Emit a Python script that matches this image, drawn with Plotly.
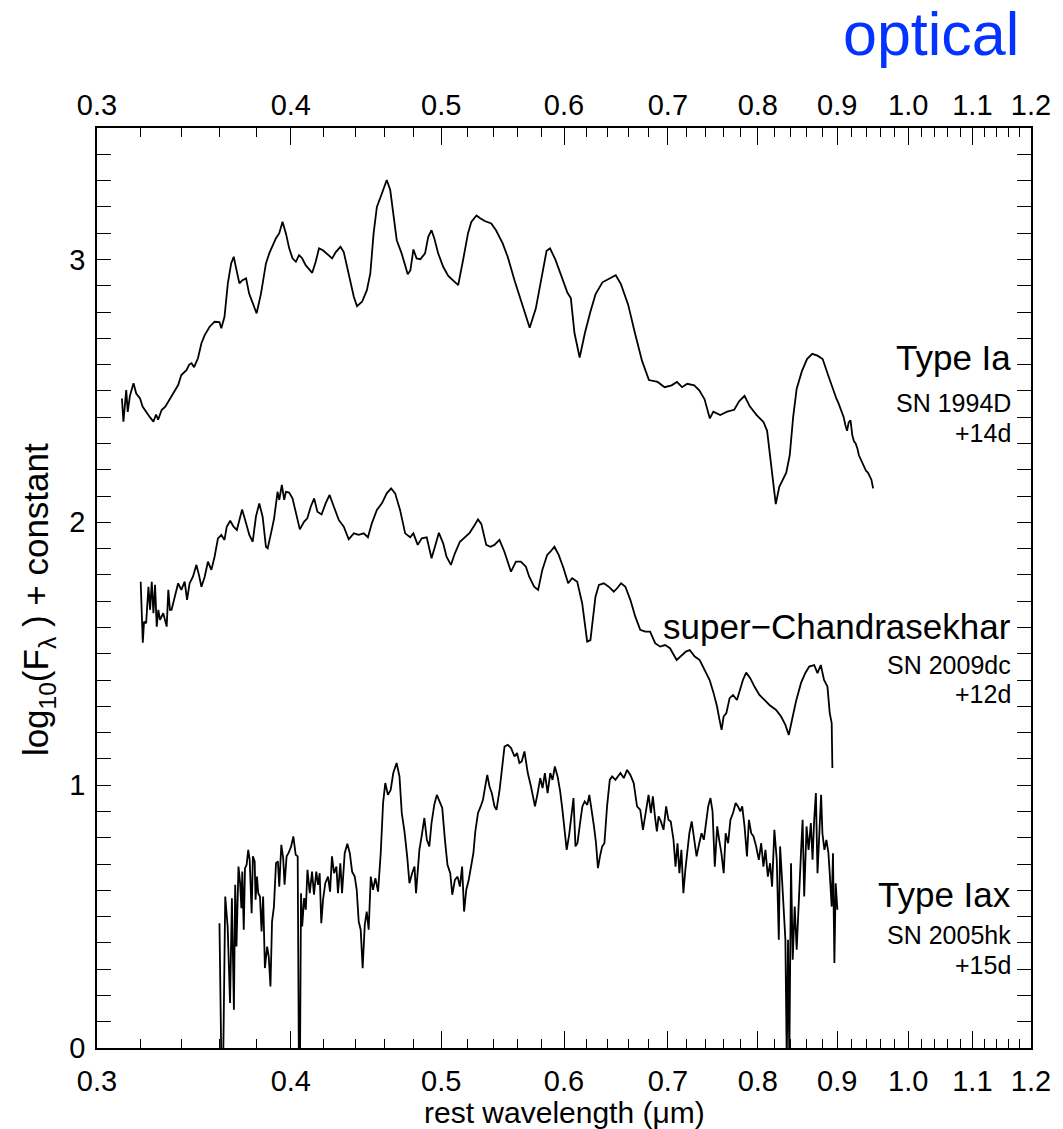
import math
import plotly.graph_objects as go

# ---------------- data (rest wavelength in micron, log10 flux + constant) ----------------
ia_wave = [0.3113, 0.3120, 0.3133, 0.3140, 0.3150, 0.3167, 0.3180, 0.3198, 0.3210, 0.3230,
           0.3245, 0.3262, 0.3275, 0.3285, 0.3302, 0.3320, 0.3343, 0.3360, 0.3384, 0.3400,
           0.3426, 0.3440, 0.3452, 0.3465, 0.3485, 0.3503, 0.3520, 0.3546, 0.3572, 0.3598,
           0.3608, 0.3625, 0.3643, 0.3661, 0.3675, 0.3690, 0.3706, 0.3723, 0.3743, 0.3760,
           0.3780, 0.3802, 0.3827, 0.3855, 0.3874, 0.3912, 0.3932, 0.3951, 0.3971, 0.3990,
           0.4010, 0.4030, 0.4049, 0.4067, 0.4089, 0.4129, 0.4150, 0.4171, 0.4195, 0.4233,
           0.4253, 0.4276, 0.4306, 0.4327, 0.4359, 0.4392, 0.4413, 0.4446, 0.4478, 0.4501,
           0.4523, 0.4545, 0.4579, 0.4612, 0.4636, 0.4658, 0.4681, 0.4715, 0.4734, 0.4758,
           0.4777, 0.4798, 0.4821, 0.4848, 0.4882, 0.4905, 0.4929, 0.4949, 0.4978, 0.5015,
           0.5053, 0.5090, 0.5128, 0.5165, 0.5203, 0.5229, 0.5269, 0.5298, 0.5334, 0.5386,
           0.5424, 0.5478, 0.5519, 0.5575, 0.5629, 0.5667, 0.5702, 0.5754, 0.5800, 0.5847,
           0.5877, 0.5923, 0.5969, 0.6003, 0.6031, 0.6061, 0.6094, 0.6141, 0.6189, 0.6239,
           0.6287, 0.6352, 0.6414, 0.6479, 0.6529, 0.6600, 0.6666, 0.6737, 0.6806, 0.6895,
           0.6966, 0.7039, 0.7095, 0.7149, 0.7204, 0.7280, 0.7336, 0.7392, 0.7450, 0.7489,
           0.7566, 0.7644, 0.7724, 0.7783, 0.7844, 0.7905, 0.7986, 0.8069, 0.8111, 0.8153,
           0.8195, 0.8216, 0.8259, 0.8302, 0.8345, 0.8388, 0.8431, 0.8475, 0.8540, 0.8606,
           0.8673, 0.8741, 0.8808, 0.8878, 0.8946, 0.8990, 0.9016, 0.9050, 0.9086, 0.9110,
           0.9133, 0.9155, 0.9180, 0.9205, 0.9227, 0.9250, 0.9274, 0.9295, 0.9317, 0.9345,
           0.9371, 0.9395, 0.9420, 0.9445, 0.9469, 0.9493]
ia_flux = [2.471, 2.383, 2.503, 2.420, 2.480, 2.529, 2.490, 2.471, 2.440, 2.414,
           2.400, 2.383, 2.410, 2.390, 2.427, 2.440, 2.471, 2.490, 2.522, 2.560,
           2.579, 2.600, 2.605, 2.590, 2.624, 2.681, 2.712, 2.744, 2.763, 2.762,
           2.738, 2.782, 2.909, 2.985, 3.010, 2.960, 2.909, 2.921, 2.928, 2.870,
           2.833, 2.795, 2.871, 2.985, 3.023, 3.080, 3.100, 3.143, 3.099, 3.043,
           3.004, 2.991, 3.016, 3.005, 2.978, 2.949, 2.990, 3.042, 3.035, 3.016,
           3.004, 3.028, 3.048, 3.028, 2.947, 2.858, 2.822, 2.839, 2.883, 2.947,
           3.099, 3.200, 3.251, 3.302, 3.264, 3.162, 3.073, 3.023, 2.990, 2.944,
           2.959, 3.038, 3.004, 3.001, 3.023, 3.086, 3.111, 3.081, 3.023, 2.972,
           2.937, 2.918, 2.902, 2.997, 3.099, 3.143, 3.167, 3.157, 3.146, 3.137,
           3.111, 3.061, 3.010, 2.921, 2.845, 2.788, 2.740, 2.813, 2.920, 3.033,
           3.042, 3.000, 2.946, 2.910, 2.873, 2.853, 2.720, 2.627, 2.720, 2.800,
           2.867, 2.913, 2.926, 2.940, 2.906, 2.827, 2.720, 2.614, 2.541, 2.534,
           2.514, 2.521, 2.534, 2.514, 2.527, 2.521, 2.501, 2.468, 2.395, 2.421,
           2.408, 2.421, 2.428, 2.461, 2.481, 2.441, 2.408, 2.381, 2.348, 2.229,
           2.122, 2.069, 2.135, 2.162, 2.189, 2.255, 2.401, 2.508, 2.574, 2.621,
           2.641, 2.634, 2.621, 2.561, 2.501, 2.470, 2.454, 2.430, 2.401, 2.370,
           2.348, 2.380, 2.388, 2.330, 2.308, 2.300, 2.281, 2.255, 2.242, 2.230,
           2.215, 2.195, 2.189, 2.175, 2.162, 2.129]

sc_wave = [0.3201, 0.3206, 0.3211, 0.3217, 0.3227, 0.3238, 0.3246, 0.3254, 0.3262, 0.3270,
           0.3278, 0.3286, 0.3294, 0.3310, 0.3327, 0.3335, 0.3343, 0.3351, 0.3367, 0.3384,
           0.3400, 0.3417, 0.3429, 0.3442, 0.3459, 0.3477, 0.3490, 0.3503, 0.3520, 0.3537,
           0.3555, 0.3572, 0.3590, 0.3608, 0.3625, 0.3637, 0.3656, 0.3674, 0.3692, 0.3706,
           0.3721, 0.3743, 0.3761, 0.3780, 0.3798, 0.3817, 0.3836, 0.3855, 0.3865, 0.3884,
           0.3902, 0.3922, 0.3932, 0.3947, 0.3961, 0.3971, 0.3990, 0.4010, 0.4030, 0.4054,
           0.4079, 0.4099, 0.4120, 0.4141, 0.4161, 0.4187, 0.4212, 0.4237, 0.4264, 0.4295,
           0.4327, 0.4359, 0.4392, 0.4424, 0.4457, 0.4485, 0.4511, 0.4545, 0.4579, 0.4612,
           0.4642, 0.4670, 0.4704, 0.4740, 0.4775, 0.4798, 0.4829, 0.4858, 0.4894, 0.4929,
           0.4954, 0.4983, 0.5015, 0.5040, 0.5073, 0.5103, 0.5141, 0.5179, 0.5216, 0.5255,
           0.5281, 0.5307, 0.5346, 0.5380, 0.5411, 0.5452, 0.5492, 0.5546, 0.5587, 0.5628,
           0.5670, 0.5698, 0.5740, 0.5774, 0.5810, 0.5852, 0.5880, 0.5915, 0.5953, 0.5996,
           0.6037, 0.6073, 0.6119, 0.6164, 0.6210, 0.6240, 0.6287, 0.6319, 0.6365, 0.6412,
           0.6460, 0.6492, 0.6531, 0.6572, 0.6621, 0.6670, 0.6719, 0.6769, 0.6818, 0.6869,
           0.6920, 0.6971, 0.7022, 0.7092, 0.7144, 0.7190, 0.7231, 0.7285, 0.7339, 0.7393,
           0.7448, 0.7492, 0.7530, 0.7558, 0.7581, 0.7604, 0.7635, 0.7672, 0.7711, 0.7756,
           0.7786, 0.7825, 0.7863, 0.7910, 0.7960, 0.8019, 0.8079, 0.8139, 0.8220, 0.8281,
           0.8334, 0.8376, 0.8416, 0.8466, 0.8529, 0.8583, 0.8634, 0.8698, 0.8741, 0.8784,
           0.8826, 0.8871, 0.8901, 0.8927, 0.8936]
sc_flux = [1.774, 1.603, 1.542, 1.622, 1.616, 1.755, 1.667, 1.774, 1.654, 1.762,
           1.603, 1.667, 1.629, 1.654, 1.603, 1.743, 1.667, 1.667, 1.717, 1.768,
           1.743, 1.774, 1.705, 1.768, 1.793, 1.838, 1.800, 1.755, 1.793, 1.850,
           1.819, 1.869, 1.939, 1.952, 1.933, 1.983, 2.006, 1.983, 1.971, 2.009,
           2.049, 1.996, 1.952, 1.926, 2.021, 2.072, 2.021, 1.907, 1.901, 1.958,
           2.015, 2.116, 2.085, 2.142, 2.085, 2.116, 2.113, 2.091, 2.034, 1.973,
           2.002, 2.015, 2.059, 2.091, 2.040, 2.030, 2.072, 2.104, 2.059, 2.009,
           1.983, 1.935, 1.958, 1.952, 1.958, 1.943, 1.996, 2.047, 2.072, 2.110,
           2.129, 2.110, 2.047, 1.958, 1.943, 1.958, 1.914, 1.939, 1.943, 1.863,
           1.907, 1.960, 1.920, 1.869, 1.838, 1.882, 1.926, 1.943, 1.960, 1.990,
           2.011, 1.994, 1.914, 1.907, 1.914, 1.933, 1.888, 1.812, 1.850, 1.850,
           1.831, 1.793, 1.755, 1.743, 1.819, 1.876, 1.888, 1.907, 1.876, 1.825,
           1.768, 1.787, 1.774, 1.692, 1.546, 1.552, 1.717, 1.762, 1.768, 1.755,
           1.736, 1.749, 1.768, 1.755, 1.705, 1.641, 1.591, 1.584, 1.584, 1.540,
           1.527, 1.533, 1.521, 1.476, 1.495, 1.508, 1.514, 1.489, 1.476, 1.438,
           1.400, 1.350, 1.299, 1.248, 1.210, 1.261, 1.274, 1.331, 1.343, 1.324,
           1.362, 1.400, 1.428, 1.407, 1.375, 1.343, 1.324, 1.305, 1.286, 1.261,
           1.229, 1.191, 1.248, 1.318, 1.388, 1.426, 1.451, 1.457, 1.426, 1.457,
           1.400, 1.375, 1.274, 1.236, 1.065]

iax_wave = [0.3598, 0.3608, 0.3618, 0.3629, 0.3642, 0.3655, 0.3665, 0.3676, 0.3683, 0.3690,
            0.3701, 0.3710, 0.3717, 0.3722, 0.3730, 0.3737, 0.3746, 0.3755, 0.3763, 0.3774,
            0.3781, 0.3791, 0.3796, 0.3804, 0.3811, 0.3821, 0.3830, 0.3839, 0.3849, 0.3862,
            0.3871, 0.3881, 0.3890, 0.3901, 0.3913, 0.3924, 0.3932, 0.3944, 0.3955, 0.3963,
            0.3975, 0.3986, 0.4002, 0.4015, 0.4029, 0.4041, 0.4048, 0.4055, 0.4061, 0.4068,
            0.4080, 0.4090, 0.4100, 0.4114, 0.4128, 0.4140, 0.4154, 0.4165, 0.4175, 0.4185,
            0.4196, 0.4210, 0.4227, 0.4240, 0.4252, 0.4265, 0.4280, 0.4290, 0.4305, 0.4316,
            0.4333, 0.4350, 0.4366, 0.4381, 0.4398, 0.4411, 0.4424, 0.4437, 0.4450, 0.4464,
            0.4477, 0.4490, 0.4504, 0.4519, 0.4535, 0.4553, 0.4571, 0.4587, 0.4602, 0.4620,
            0.4639, 0.4657, 0.4680, 0.4700, 0.4716, 0.4735, 0.4754, 0.4770, 0.4789, 0.4806,
            0.4817, 0.4829, 0.4841, 0.4857, 0.4877, 0.4895, 0.4913, 0.4929, 0.4949, 0.4968,
            0.4985, 0.5008, 0.5028, 0.5047, 0.5068, 0.5083, 0.5103, 0.5123, 0.5141, 0.5158,
            0.5173, 0.5190, 0.5209, 0.5229, 0.5245, 0.5260, 0.5281, 0.5302, 0.5320, 0.5338,
            0.5354, 0.5372, 0.5390, 0.5412, 0.5428, 0.5453, 0.5472, 0.5493, 0.5520, 0.5547,
            0.5575, 0.5596, 0.5616, 0.5635, 0.5658, 0.5686, 0.5713, 0.5747, 0.5770, 0.5792,
            0.5812, 0.5832, 0.5856, 0.5879, 0.5899, 0.5919, 0.5943, 0.5966, 0.5986, 0.6006,
            0.6024, 0.6046, 0.6067, 0.6085, 0.6103, 0.6121, 0.6145, 0.6166, 0.6187, 0.6211,
            0.6230, 0.6248, 0.6273, 0.6292, 0.6310, 0.6329, 0.6350, 0.6371, 0.6396, 0.6422,
            0.6444, 0.6476, 0.6524, 0.6557, 0.6589, 0.6621, 0.6654, 0.6687, 0.6719, 0.6746,
            0.6768, 0.6802, 0.6826, 0.6846, 0.6869, 0.6887, 0.6904, 0.6928, 0.6955, 0.6982,
            0.7006, 0.7030, 0.7059, 0.7080, 0.7101, 0.7121, 0.7142, 0.7163, 0.7184, 0.7205,
            0.7227, 0.7252, 0.7276, 0.7305, 0.7334, 0.7359, 0.7384, 0.7406, 0.7432, 0.7457,
            0.7480, 0.7505, 0.7532, 0.7554, 0.7579, 0.7605, 0.7627, 0.7655, 0.7681, 0.7711,
            0.7741, 0.7768, 0.7794, 0.7817, 0.7844, 0.7872, 0.7895, 0.7922, 0.7949, 0.7980,
            0.8012, 0.8040, 0.8067, 0.8091, 0.8120, 0.8147, 0.8171, 0.8199, 0.8228, 0.8253,
            0.8269, 0.8293, 0.8318, 0.8334, 0.8351, 0.8367, 0.8383, 0.8404, 0.8425, 0.8450,
            0.8475, 0.8500, 0.8529, 0.8550, 0.8570, 0.8600, 0.8626, 0.8655, 0.8677, 0.8698,
            0.8720, 0.8741, 0.8762, 0.8788, 0.8805, 0.8831, 0.8857, 0.8884, 0.8901, 0.8927,
            0.8944, 0.8963, 0.8980, 0.9003]
iax_flux = [0.475, -0.050, -0.050, 0.576, 0.462, 0.171, 0.570, 0.146, 0.621, 0.386,
            0.690, 0.627, 0.532, 0.671, 0.450, 0.684, 0.697, 0.754, 0.716, 0.513,
            0.729, 0.710, 0.564, 0.652, 0.589, 0.576, 0.443, 0.576, 0.304, 0.386,
            0.348, 0.234, 0.481, 0.538, 0.703, 0.710, 0.614, 0.773, 0.722, 0.621,
            0.729, 0.741, 0.767, 0.805, 0.735, 0.729, -0.050, -0.050, 0.589, 0.462,
            0.570, 0.526, 0.678, 0.589, 0.671, 0.583, 0.671, 0.621, 0.665, 0.475,
            0.564, 0.627, 0.652, 0.595, 0.729, 0.665, 0.690, 0.589, 0.703, 0.589,
            0.741, 0.777, 0.741, 0.671, 0.652, 0.602, 0.481, 0.450, 0.304, 0.469,
            0.519, 0.450, 0.652, 0.602, 0.646, 0.595, 0.741, 0.932, 1.008, 0.963,
            0.982, 1.046, 1.084, 1.033, 0.894, 0.824, 0.729, 0.627, 0.665, 0.690,
            0.589, 0.690, 0.754, 0.805, 0.875, 0.792, 0.767, 0.856, 0.925, 0.963,
            0.944, 0.913, 0.792, 0.697, 0.665, 0.583, 0.640, 0.652, 0.614, 0.690,
            0.519, 0.602, 0.640, 0.703, 0.741, 0.824, 0.894, 0.919, 0.944, 0.995,
            1.039, 0.995, 0.970, 0.919, 0.906, 0.982, 1.071, 1.147, 1.153, 1.141,
            1.109, 1.122, 1.084, 1.090, 1.128, 1.046, 0.995, 0.919, 0.970, 1.027,
            0.989, 1.046, 0.970, 1.046, 1.020, 1.071, 1.033, 0.976, 0.906, 0.837,
            0.754, 0.811, 0.881, 0.951, 0.767, 0.779, 0.856, 0.919, 0.938, 0.925,
            0.963, 0.919, 0.843, 0.779, 0.684, 0.729, 0.767, 0.779, 0.919, 1.020,
            1.033, 1.020, 1.046, 1.027, 1.058, 1.039, 1.008, 0.919, 0.906, 0.830,
            0.881, 0.963, 0.894, 0.957, 0.875, 0.824, 0.881, 0.862, 0.830, 0.919,
            0.868, 0.862, 0.792, 0.690, 0.779, 0.665, 0.754, 0.589, 0.678, 0.754,
            0.817, 0.862, 0.792, 0.729, 0.779, 0.817, 0.792, 0.856, 0.919, 0.951,
            0.900, 0.690, 0.843, 0.792, 0.741, 0.665, 0.817, 0.779, 0.868, 0.894,
            0.932, 0.919, 0.900, 0.919, 0.843, 0.729, 0.868, 0.817, 0.805, 0.767,
            0.716, 0.779, 0.690, 0.754, 0.652, 0.703, 0.614, 0.830, 0.716, 0.412,
            0.767, 0.640, 0.462, 0.412, -0.050, 0.412, -0.050, 0.703, 0.336, 0.538,
            0.374, 0.564, 0.741, 0.868, 0.576, 0.843, 0.754, 0.856, 0.716, 0.868,
            0.970, 0.665, 0.792, 0.963, 0.817, 0.754, 0.792, 0.741, 0.665, 0.538,
            0.741, 0.323, 0.627, 0.526]

x_tick_vals = [0.3, 0.4, 0.5, 0.6, 0.7, 0.8, 0.9, 1.0, 1.1, 1.2]
x_tick_text = ["0.3", "0.4", "0.5", "0.6", "0.7", "0.8", "0.9", "1.0", "1.1", "1.2"]
x_minor_vals = [round(0.30 + 0.02 * i, 2) for i in range(46)]
y_tick_vals = [0, 1, 2, 3]
y_tick_text = ["0", "1", "2", "3"]

label_main = ["Type Ia", "super\u2212Chandrasekhar", "Type Iax"]
label_sn = ["SN 1994D", "SN 2009dc", "SN 2005hk"]
label_phase = ["+14d", "+12d", "+15d"]

# ---------------- figure ----------------
FONT = "Liberation Sans, Arial, Helvetica, sans-serif"
fig = go.Figure()
for w, f in [(ia_wave, ia_flux), (sc_wave, sc_flux), (iax_wave, iax_flux)]:
    fig.add_trace(go.Scatter(x=w, y=f, mode="lines",
                             line=dict(color="black", width=1.8),
                             showlegend=False, hoverinfo="skip"))
# anchor trace for the top axis
fig.add_trace(go.Scatter(x=[0.5], y=[None], xaxis="x2", yaxis="y",
                         mode="lines", showlegend=False, hoverinfo="skip"))

xr = [math.log10(0.3), math.log10(1.2)]
minor_x = dict(tickmode="array", tickvals=x_minor_vals, ticks="inside",
               ticklen=9, tickwidth=1.2, tickcolor="black", showgrid=False)
common_x = dict(type="log", range=xr, tickmode="array", tickvals=x_tick_vals,
                ticktext=x_tick_text, ticks="inside", ticklen=17, tickwidth=1.4,
                tickcolor="black", showgrid=False, zeroline=False,
                tickfont=dict(family=FONT, size=29, color="black"), minor=minor_x)

fig.update_layout(
    width=1063, height=1129,
    margin=dict(l=97, r=26, t=128, b=81),
    plot_bgcolor="white", paper_bgcolor="white",
    xaxis=dict(**common_x, showline=True, linecolor="black", linewidth=1.5,
               mirror=True, ticklabelstandoff=6),
    xaxis2=dict(**common_x, overlaying="x", side="top", anchor="y",
                showline=False, ticklabelstandoff=6),
    yaxis=dict(range=[0, 3.5], tickmode="array", tickvals=y_tick_vals,
               ticktext=y_tick_text, ticks="inside", ticklen=14, tickwidth=1.4,
               tickcolor="black", showline=True, linecolor="black", linewidth=1.5,
               mirror="allticks", showgrid=False, zeroline=False,
               tickfont=dict(family=FONT, size=29, color="black"),
               ticklabelstandoff=4,
               minor=dict(dtick=0.1, tick0=0, ticks="inside", ticklen=7,
                          tickwidth=1.2, tickcolor="black", showgrid=False)),
)

ann = []
# axis titles
ann.append(dict(text="rest wavelength (\u03bcm)", xref="paper", yref="paper",
                x=0.5, y=-0.0696, xanchor="center", yanchor="middle",
                showarrow=False, font=dict(family=FONT, size=30, color="black")))
ann.append(dict(text="log<sub>10</sub>(F<sub>\u03bb</sub> ) + constant", xref="paper",
                yref="paper", x=-0.063, y=0.487, xanchor="center", yanchor="middle",
                textangle=-90, showarrow=False,
                font=dict(family=FONT, size=35, color="black")))
# "optical"
ann.append(dict(text="optical", xref="paper", yref="paper", x=0.893, y=1.1025,
                xanchor="center", yanchor="middle", showarrow=False,
                font=dict(family=FONT, size=61, color="#0433ff")))

# spectrum labels (y in data units)
main_y = [2.628, 1.603, 0.583]
sn_y = [2.455, 1.458, 0.430]
ph_y = [2.340, 1.345, 0.315]
for i in range(3):
    ann.append(dict(text=label_main[i], xref="paper", yref="y", x=0.981, y=main_y[i],
                    xanchor="right", yanchor="middle", showarrow=False,
                    font=dict(family=FONT, size=35, color="black")))
    ann.append(dict(text=label_sn[i], xref="paper", yref="y", x=0.981, y=sn_y[i],
                    xanchor="right", yanchor="middle", showarrow=False,
                    font=dict(family=FONT, size=25, color="black")))
    ann.append(dict(text=label_phase[i], xref="paper", yref="y", x=0.981, y=ph_y[i],
                    xanchor="right", yanchor="middle", showarrow=False,
                    font=dict(family=FONT, size=25, color="black")))
fig.update_layout(annotations=ann)

fig.write_html("out.html")
